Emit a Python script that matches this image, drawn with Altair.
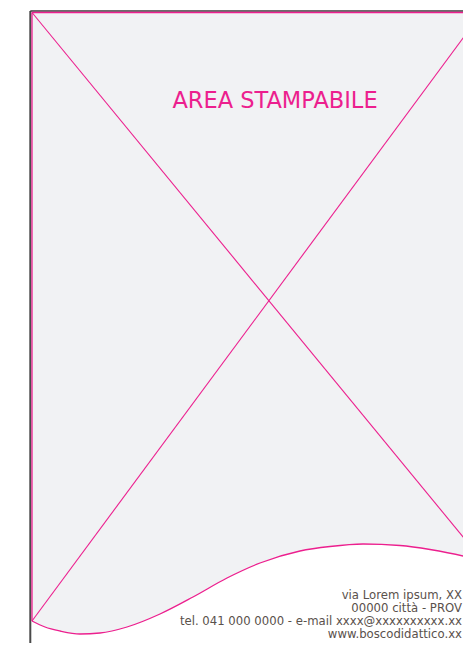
import altair as alt
import pandas as pd

# Page coordinates (pixels of the sheet)
# Bottom wavy edge of the printable area
curve_x = [32, 45, 60, 80, 100, 127, 160, 193, 227, 260, 300, 330, 363, 400, 430, 471, 485]
curve_y = [621, 627, 631, 634, 633, 627, 614, 597, 578, 563, 551, 546.5, 544, 545.5, 549.5, 558, 562]
top_y = 12.5

# Frame and diagonal segments: x1, y1, x2, y2, colour, width
seg_x1 = [30.3, 30.3, 32, 32, 32, 32, 413]
seg_y1 = [11, 11, 12.5, 12.5, 12.5, 621, 650]
seg_x2 = [30.3, 480, 32, 480, 482, 482, 416.5]
seg_y2 = [651, 11, 621, 12.5, 560, 12.5, 647]
seg_col = ["#4a4a4a", "#3a3a3a", "#ec1f8e", "#ec1f8e", "#ec1f8e", "#ec1f8e", "#ec1f8e"]
seg_w = [2, 1.6, 1.3, 1.3, 1.1, 1.1, 1.3]

title_text = ["AREA STAMPABILE"]
title_x = [275]
title_y = [107.5]

addr_lines = [
    "via Lorem ipsum, XX",
    "00000 città - PROV",
    "tel. 041 000 0000 - e-mail xxxx@xxxxxxxxxx.xx",
    "www.boscodidattico.xx",
]
addr_y = [599, 612, 625, 638]
addr_x = [462, 462, 462, 462]

PAGE_W, PAGE_H = 455, 635
xs = alt.Scale(domain=[8, 8 + PAGE_W], nice=False, zero=False)
ys = alt.Scale(domain=[8 + PAGE_H, 8], nice=False, zero=False)

curve = pd.DataFrame({"x": curve_x, "y": curve_y, "top": [top_y] * len(curve_x)})
segs = pd.DataFrame({"x1": seg_x1, "y1": seg_y1, "x2": seg_x2, "y2": seg_y2,
                     "c": seg_col, "w": seg_w, "i": list(range(len(seg_x1)))})
title = pd.DataFrame({"t": title_text, "x": title_x, "y": title_y})
addr = pd.DataFrame({"t": addr_lines, "x": addr_x, "y": addr_y})

area = alt.Chart(curve).mark_area(color="#f1f2f4", interpolate="monotone", clip=True).encode(
    x=alt.X("x:Q", scale=xs, axis=None),
    y=alt.Y("y:Q", scale=ys, axis=None),
    y2="top:Q",
)
edge = alt.Chart(curve).mark_line(color="#ec1f8e", strokeWidth=1.3, interpolate="monotone", clip=True).encode(
    x=alt.X("x:Q", scale=xs, axis=None),
    y=alt.Y("y:Q", scale=ys, axis=None),
)
rules = alt.Chart(segs).mark_rule(clip=True).encode(
    x=alt.X("x1:Q", scale=xs, axis=None),
    y=alt.Y("y1:Q", scale=ys, axis=None),
    x2="x2:Q",
    y2="y2:Q",
    color=alt.Color("c:N", scale=None),
    strokeWidth=alt.StrokeWidth("w:Q", scale=None),
    detail="i:N",
)
title_m = alt.Chart(title).mark_text(
    font="DejaVu Sans", fontSize=22.5, color="#ec1f8e", align="center", baseline="alphabetic"
).encode(
    x=alt.X("x:Q", scale=xs, axis=None),
    y=alt.Y("y:Q", scale=ys, axis=None),
    text="t:N",
)
addr_m = alt.Chart(addr).mark_text(
    font="DejaVu Sans", fontSize=11.7, color="#5a514c", align="right", baseline="alphabetic"
).encode(
    x=alt.X("x:Q", scale=xs, axis=None),
    y=alt.Y("y:Q", scale=ys, axis=None),
    text="t:N",
)

chart = alt.layer(area, edge, rules, title_m, addr_m).properties(
    width=PAGE_W, height=PAGE_H, padding=0, autosize=alt.AutoSizeParams(type="none"),
    background="white",
).configure_view(stroke=None)

chart.save("out.html", embed_options={"renderer": "svg", "actions": False})
